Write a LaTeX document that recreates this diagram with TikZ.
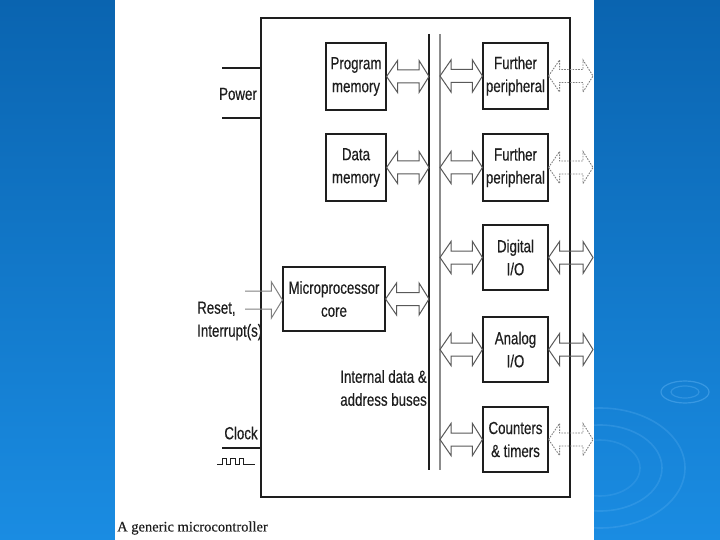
\documentclass[tikz,border=0pt]{standalone}
\usepackage{fontspec}
\usepackage{tikz}
\usetikzlibrary{calc}
\usetikzlibrary{backgrounds}
\newfontfamily\narrowfont{Liberation Sans}[FakeStretch=0.76,FakeBold=0.4]
\newfontfamily\capfont{Liberation Serif}[FakeBold=0.3]
\definecolor{slidetop}{RGB}{10,100,176}
\definecolor{slidebot}{RGB}{26,140,226}
\definecolor{ripple}{RGB}{90,175,240}
\definecolor{ink}{RGB}{30,30,30}
\tikzset{
	block/.style={draw=ink, line width=1.1pt, rectangle, inner sep=0pt, align=center, text=ink,
		font=\narrowfont\fontsize{17.5}{23}\selectfont},
	label/.style={inner sep=0pt, text=ink, font=\narrowfont\fontsize{17.5}{23}\selectfont},
	busarrow/.style={draw=black!65, line width=1pt, line join=miter},
	outarrow/.style={draw=black!50, line width=0.9pt, dash pattern=on 1.6pt off 1.2pt},
}
% hollow double-headed bus arrow between two points on one level
\newcommand\dblarrow[3][]{%
	\draw[busarrow,#1] let \p1=(#2), \p2=(#3) in
	(\x1,\y1) -- (\x1+11pt,\y1+16pt) -- (\x1+11pt,\y1+6.5pt) -- (\x2-10pt,\y1+6.5pt)
	-- (\x2-10pt,\y1+16pt) -- (\x2,\y1) -- (\x2-10pt,\y1-16pt) -- (\x2-10pt,\y1-6.5pt)
	-- (\x1+11pt,\y1-6.5pt) -- (\x1+11pt,\y1-16pt) -- cycle;}

\begin{document}
\begin{tikzpicture}[x=1pt,y=-1pt]
	\useasboundingbox (0,0) rectangle (720,540);
		\begin {scope} [on background layer]
		\shade [top color=slidetop, bottom color=slidebot] (0,0) rectangle (720,540);
		\draw [ripple, opacity=0.5, line width=1.2pt] (685,392) ellipse (24 and 11);
		\draw [ripple, opacity=0.4, line width=1.2pt] (685,392) ellipse (14 and 6);
		\draw [ripple, opacity=0.3, line width=1.6pt] (600,468) ellipse (85 and 60);
		\draw [ripple, opacity=0.3, line width=1.6pt] (600,468) ellipse (62 and 43);
		\draw [ripple, opacity=0.25, line width=1.6pt] (600,468) ellipse (40 and 28);
		\fill [white] (115,0) rectangle (594,540);
		\end {scope}

	\node [name=mcu, draw=ink, line width=1.1pt, rectangle, minimum width=309, minimum height=479] at (415.5,257.5) {};

	\node [name=pmem, block, minimum width=60, minimum height=67] at (356,76.5) {Program\\memory};
	\node [name=dmem, block, minimum width=60, minimum height=67] at (356,167.5) {Data\\memory};
	\node [name=core, block, minimum width=102, minimum height=64] at (334,299) {Microprocessor\\core};

	\node [name=fp1, block, minimum width=65, minimum height=66] at (515.5,76) {Further\\peripheral};
	\node [name=fp2, block, minimum width=65, minimum height=67] at (515.5,167.5) {Further\\peripheral};
	\node [name=dio, block, minimum width=65, minimum height=65] at (515.5,257.5) {Digital\\I/O};
	\node [name=aio, block, minimum width=65, minimum height=65] at (515.5,349.5) {Analog\\I/O};
	\node [name=ctr, block, minimum width=65, minimum height=65] at (515.5,439.5) {Counters\\\& timers};

	% buses
	\coordinate (busa) at (429,34);
	\coordinate (busb) at (440,34);
	\coordinate (busend) at (0,470);
	\draw [ink, line width=1.1pt] (busa) -- (busa |- busend);
	\draw [black!45, line width=1.1pt] (busb) -- (busb |- busend);
	\node [name=buslbl, label, align=right, anchor=east] at (427,388) {Internal data \&\\address buses};

	\dblarrow{pmem.east}{pmem.east -| busa}
	\dblarrow{dmem.east}{dmem.east -| busa}
	\dblarrow{core.east}{core.east -| busa}

	\dblarrow{fp1.west -| busb}{fp1.west}
	\dblarrow{fp2.west -| busb}{fp2.west}
	\dblarrow{dio.west -| busb}{dio.west}
	\dblarrow{aio.west -| busb}{aio.west}
	\dblarrow{ctr.west -| busb}{ctr.west}

	% outside world
	\coordinate (pins) at (593,0);
	\dblarrow[outarrow]{fp1.east}{fp1.east -| pins}
	\dblarrow[outarrow]{fp2.east}{fp2.east -| pins}
	\dblarrow{dio.east}{dio.east -| pins}
	\dblarrow{aio.east}{aio.east -| pins}
	\dblarrow[outarrow]{ctr.east}{ctr.east -| pins}

	% power
	\coordinate (pwra) at (222,68);
	\coordinate (pwrb) at (222,118);
	\draw [ink, line width=1.1pt] (pwra) -- (pwra -| mcu.west);
	\draw [ink, line width=1.1pt] (pwrb) -- (pwrb -| mcu.west);
	\node [name=power, label] at (238,94) {Power};

	% reset, interrupts
	\coordinate (rst) at (245,300);
	\draw [busarrow, draw=black!50] let \p1=(rst), \p2=(core.west) in
		(\x1,\y1+9pt) -- (\x2-11pt,\y1+9pt) -- (\x2-11pt,\y1+18pt) -- (\x2,\y1)
		-- (\x2-11pt,\y1-18pt) -- (\x2-11pt,\y1-9pt) -- (\x1,\y1-9pt);
	\node [name=reset, label, align=left, anchor=west] at (197,321) {Reset,\\Interrupt(s)};

	% clock
	\coordinate (clk) at (222,448);
	\draw [ink, line width=1.1pt] (clk) -- (clk -| mcu.west);
	\node [name=clock, label] at (241,433) {Clock};
	\draw [ink, line width=1pt] (217,464) -- (222,464) -- (222,458) -- (226.5,458) -- (226.5,464)
		-- (230.5,464) -- (230.5,458) -- (235,458) -- (235,464) -- (239,464) -- (239,458)
		-- (243.5,458) -- (243.5,464) -- (255,464);

	\node [name=caption, anchor=west, inner sep=0pt, font=\capfont\fontsize{14.5}{16}\selectfont, text=ink] at (117,528) {A generic microcontroller};
	\end{tikzpicture}
\end{document}
